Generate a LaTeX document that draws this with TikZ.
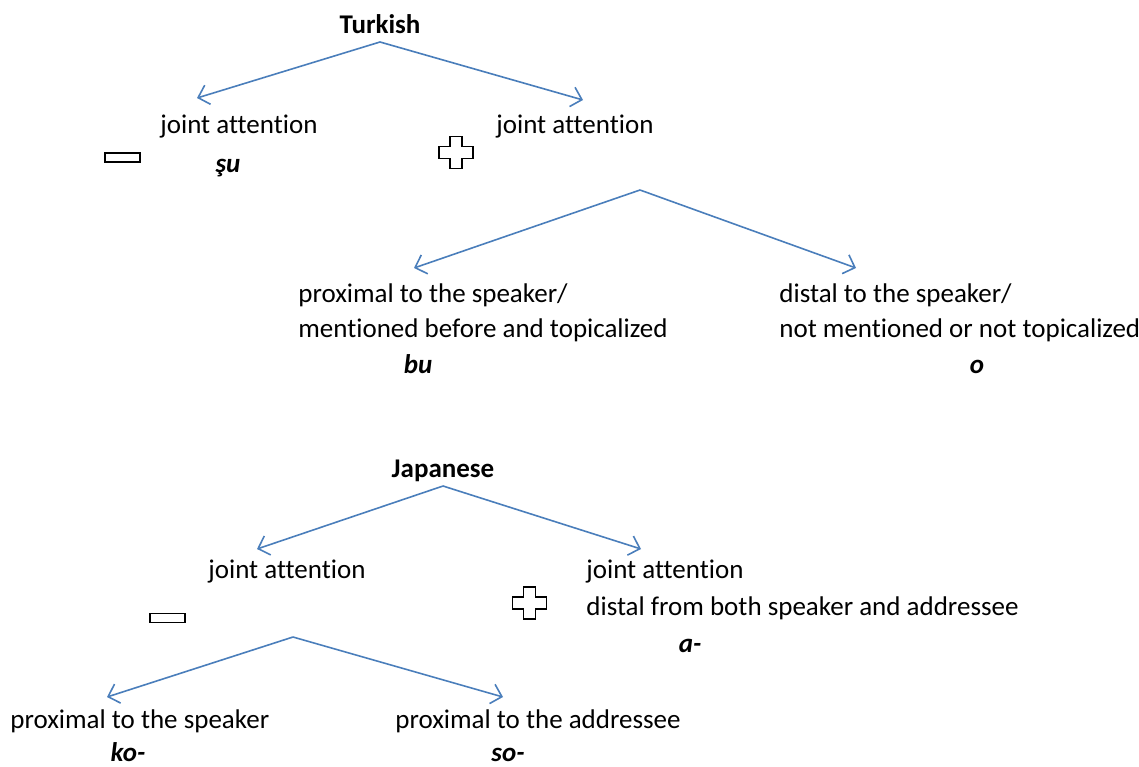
\documentclass[tikz,border=0pt]{standalone}
\usepackage{fontspec}
\setmainfont{Carlito}[Ligatures=NoCommon]
\usetikzlibrary{arrows.meta}
\definecolor{branch}{HTML}{4A7EBB}
\tikzset{
  label text/.style={
    inner sep=0pt,
    anchor=base west,
    font=\fontsize{13.5}{16}\selectfont,
  },
  head text/.style={
    inner sep=0pt,
    anchor=base,
    font=\fontsize{13.5}{16}\selectfont\bfseries,
  },
  form text/.style={
    inner sep=0pt,
    anchor=base,
    font=\fontsize{13.5}{16}\selectfont\bfseries\itshape,
  },
  branch arrow/.style={
    draw=branch,
    line width=0.8pt,
    -{Straight Barb[length=5pt,width=10pt]},
  },
  minus sign/.style={
    draw,
    line width=0.6pt,
    minimum width={17.5pt},
    minimum height={4.5pt},
    inner sep=0pt,
  }
}
\newcommand{\plussign}[2]{%
  \draw[line width=0.6pt] (#1-6,#2-16) -- (#1+6,#2-16) -- (#1+6,#2-6) -- (#1+17,#2-6)
    -- (#1+17,#2+6) -- (#1+6,#2+6) -- (#1+6,#2+16) -- (#1-6,#2+16) -- (#1-6,#2+6)
    -- (#1-17,#2+6) -- (#1-17,#2-6) -- (#1-6,#2-6) -- cycle;}
\begin{document}
\begin{tikzpicture}[x=0.5pt,y=-0.5pt]
        \useasboundingbox (0,0) rectangle (1139,766);

        % Turkish
        \node [head text] (tk) at (380,33) {Turkish};
        \node [label text] (tk1) at (160,133) {joint attention};
        \node [label text] (tk2) at (496,133) {joint attention};
        \node [minus sign] (tk1m) at (122.5,157.5) {};
        \plussign{456}{152.5}
        \node [form text] (su) at (228,172) {şu};
        \node [label text] (tk21) at (298,302) {proximal to the speaker/};
        \node [label text] (tk21b) at (298,337) {mentioned before and topicalized};
        \node [form text] (bu) at (418,373) {bu};
        \node [label text] (tk22) at (779,302) {distal to the speaker/};
        \node [label text] (tk22b) at (779,337) {not mentioned or not topicalized};
        \node [form text] (o) at (977,373) {o};

        \coordinate (tk-top) at (380,42);
        \coordinate (tk1-in) at (197,98);
        \coordinate (tk2-in) at (583,100);
        \coordinate (tk2-top) at (640,190);
        \coordinate (tk21-in) at (414,268);
        \coordinate (tk22-in) at (856,268);
        \draw [branch arrow] (tk-top) -- (tk1-in);
        \draw [branch arrow] (tk-top) -- (tk2-in);
        \draw [branch arrow] (tk2-top) -- (tk21-in);
        \draw [branch arrow] (tk2-top) -- (tk22-in);

        % Japanese
        \node [head text] (jp) at (443,477) {Japanese};
        \node [label text] (jp1) at (208,578) {joint attention};
        \node [label text] (jp2) at (586,578) {joint attention};
        \node [label text] (jp2b) at (586,615) {distal from both speaker and addressee};
        \node [form text] (a) at (690,652) {a-};
        \node [minus sign] (jp1m) at (167.5,618) {};
        \plussign{529.5}{603}
        \node [label text] (jp11) at (10,728) {proximal to the speaker};
        \node [label text] (jp12) at (395,728) {proximal to the addressee};
        \node [form text] (ko) at (128,761) {ko-};
        \node [form text] (so) at (508,761) {so-};

        \coordinate (jp-top) at (443,486);
        \coordinate (jp1-in) at (257,549);
        \coordinate (jp2-in) at (641,549);
        \coordinate (jp1-top) at (293,637);
        \coordinate (jp11-in) at (107,697);
        \coordinate (jp12-in) at (503,697);
        \draw [branch arrow] (jp-top) -- (jp1-in);
        \draw [branch arrow] (jp-top) -- (jp2-in);
        \draw [branch arrow] (jp1-top) -- (jp11-in);
        \draw [branch arrow] (jp1-top) -- (jp12-in);
      \end{tikzpicture}
\end{document}
